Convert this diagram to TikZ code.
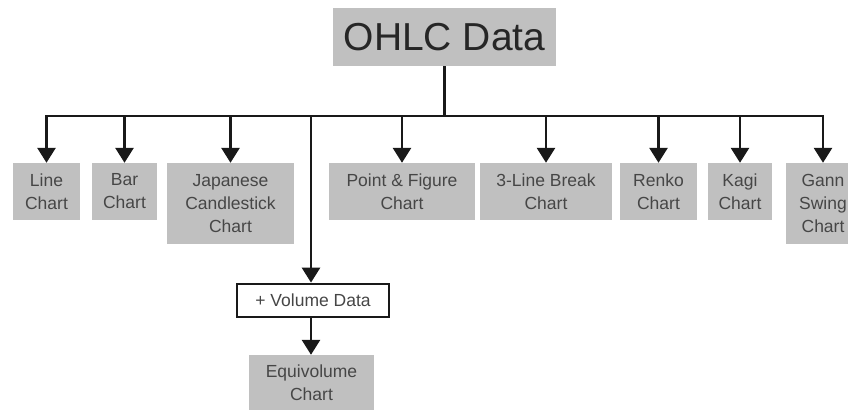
\documentclass[tikz,border=0pt]{standalone}
\usepackage{fontspec}
\setmainfont{Liberation Sans}
\usetikzlibrary{arrows.meta}
\definecolor{boxgray}{RGB}{192,192,192}
\definecolor{txtgray}{RGB}{70,70,70}
\definecolor{linecol}{RGB}{25,25,25}
\begin{document}
\begin{tikzpicture}[x=1pt,y=-1pt,
  chartbox/.style={fill=boxgray,draw=none,inner sep=0pt,align=center,text=txtgray,
    font=\fontsize{17.5}{23}\selectfont},
  conn/.style={draw=linecol,line width=2.8pt},
  arr/.style={conn,-{Triangle[width=18pt,length=15pt]}}]
\useasboundingbox (0,0) rectangle (848,419);
\clip (0,0) rectangle (848,419);
\fill[white] (0,0) rectangle (848,419);
\node[chartbox,minimum width=223pt,minimum height=58pt,text=black!85,
  font=\fontsize{39}{45}\selectfont] (ohlc) at (444.5,37) {OHLC Data};
\node[chartbox,minimum width=67pt,minimum height=57pt] (line) at (46.5,191.5) {Line\\Chart};
\node[chartbox,minimum width=65pt,minimum height=57pt] (bar) at (124.5,191.5) {Bar\\Chart};
\node[chartbox,minimum width=127pt,minimum height=81pt] (jap) at (230.5,203.5) {Japanese\\Candlestick\\Chart};
\node[chartbox,minimum width=146pt,minimum height=57pt] (pf) at (402,191.5) {Point \& Figure\\Chart};
\node[chartbox,minimum width=132pt,minimum height=57pt] (tlb) at (546,191.5) {3-Line Break\\Chart};
\node[chartbox,minimum width=77pt,minimum height=57pt] (renko) at (658.5,191.5) {Renko\\Chart};
\node[chartbox,minimum width=64pt,minimum height=57pt] (kagi) at (740,191.5) {Kagi\\Chart};
\node[chartbox,minimum width=74pt,minimum height=81pt] (gann) at (823,203.5) {Gann\\Swing\\Chart};
\node[chartbox,fill=white,draw=linecol,line width=2.8pt,minimum width=152pt,minimum height=33pt] (vol) at (313,300.5) {+ Volume Data};
\node[chartbox,minimum width=125pt,minimum height=55pt] (equi) at (311.5,382.5) {Equivolume\\Chart};
\coordinate (busL) at (46.5,116);
\coordinate (busR) at (823,116);
\coordinate (vtop) at (311,116);
\draw[conn] (ohlc.south) -- (ohlc.south |- busL);
\draw[conn,line cap=rect] (busL) -- (busR);
\foreach \n in {line,bar,jap,pf,tlb,renko,kagi,gann}
  \draw[arr] (\n.north |- busL) -- (\n.north);
\draw[arr] (vtop) -- (vtop |- vol.north);
\draw[arr] (vtop |- vol.south) -- (vtop |- equi.north);
\end{tikzpicture}
\end{document}
